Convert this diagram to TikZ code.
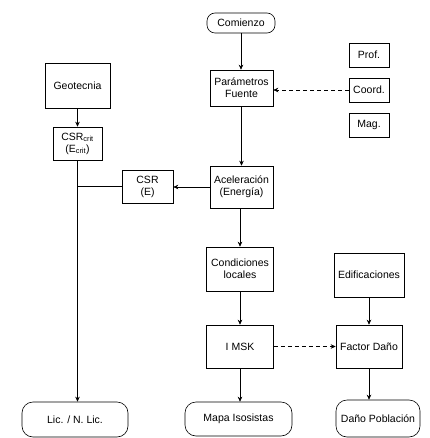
\documentclass[tikz,border=0pt]{standalone}
\usepackage{fontspec}
\setmainfont{Liberation Sans}
\usetikzlibrary{arrows.meta}
\tikzset{
  every node/.style={font=\fontsize{10.5}{12}\selectfont, align=center, inner sep=0pt},
  box/.style={draw, line width=0.6pt},
  term/.style={draw, line width=0.6pt, rounded corners=11pt},
  conn/.style={line width=0.6pt, -{Stealth[length=5pt,width=4.5pt]}},
  plain/.style={line width=0.6pt},
  dconn/.style={conn, dash pattern=on 4pt off 3pt},
}
\begin{document}
\begin{tikzpicture}[x=1pt,y=-1pt]
\useasboundingbox (0,0) rectangle (429,438);
% nodes
\node[term, rounded corners=8pt, minimum width=68pt, minimum height=20pt] (comienzo) at (241,23) {Comienzo};
\node[box, minimum width=63pt, minimum height=36pt] (param) at (241.5,88) {Parámetros\\Fuente};
\node[box, minimum width=40pt, minimum height=24pt] (prof) at (369,55) {Prof.};
\node[box, minimum width=40pt, minimum height=24pt] (coord) at (369,90) {Coord.};
\node[box, minimum width=40pt, minimum height=24pt] (mag) at (369,125) {Mag.};
\node[box, minimum width=65pt, minimum height=45pt] (geo) at (77.5,85.5) {Geotecnia};
\node[box, minimum width=49pt, minimum height=33pt] (csrcrit) at (77.5,143.5) {CSR\textsubscript{crit}\\(E\textsubscript{crit})};
\node[box, minimum width=51pt, minimum height=33pt] (csr) at (147.5,186.5) {CSR\\(E)};
\node[box, minimum width=63pt, minimum height=42pt] (acel) at (241.5,187) {Aceleración\\(Energía)};
\node[box, minimum width=67pt, minimum height=44pt] (cond) at (240,269) {Condiciones\\locales};
\node[box, minimum width=70pt, minimum height=44pt] (edif) at (369,275) {Edificaciones};
\node[box, minimum width=67pt, minimum height=43pt] (imsk) at (240,346.5) {I MSK};
\node[box, minimum width=66pt, minimum height=43pt] (factor) at (369,346.5) {Factor Daño};
\node[term, minimum width=106pt, minimum height=35pt] (lic) at (75,419.5) {Lic. / N. Lic.};
\node[term, minimum width=107pt, minimum height=34pt] (mapa) at (238.5,419) {Mapa Isosistas};
\node[term, minimum width=84pt, minimum height=37pt] (dano) at (378,418.5) {Daño Población};
% connectors
\draw[conn] (comienzo.south) -- (comienzo.south |- param.north);
\draw[conn] (param.south) -- (param.south |- acel.north);
\draw[dconn] (coord.west) -- (coord.west -| param.east);
\draw[conn] (geo.south) -- (csrcrit.north);
\draw[conn] (acel.west) -- (acel.west -| csr.east);
\coordinate (j) at (csrcrit.south |- csr.west);
\draw[plain] (csr.west) -- (j);
\draw[conn] (csrcrit.south) -- (csrcrit.south |- lic.north);
\draw[conn] (acel.south) -- (acel.south -| cond.north) -- (cond.north);
\draw[conn] (cond.south) -- (imsk.north);
\draw[conn] (imsk.south) -- (imsk.south |- mapa.north);
\draw[conn] (edif.south) -- (edif.south |- factor.north);
\draw[dconn] (imsk.east) -- (factor.west);
\draw[conn] (factor.south) -- (factor.south |- dano.north);
\end{tikzpicture}
\end{document}
